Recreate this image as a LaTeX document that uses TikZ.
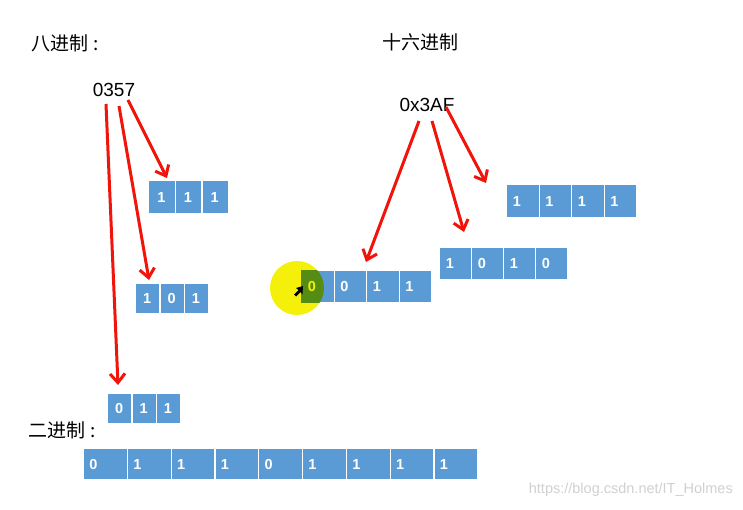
\documentclass[tikz,border=0pt]{standalone}
\usepackage{fontspec}
\setmainfont{Liberation Sans}
\newfontfamily\cjk{Noto Sans CJK SC}
\usetikzlibrary{arrows.meta,calc}
\definecolor{cellblue}{RGB}{91,155,213}
\definecolor{arrowred}{RGB}{240,20,10}
\definecolor{hlyellow}{RGB}{245,240,10}
\definecolor{hlgreen}{RGB}{84,140,20}
\tikzset{
  cell/.style={fill=cellblue, draw=white, line width=1.2pt, inner sep=0pt, anchor=north west},
  digit/.style={text=white, font=\bfseries\fontsize{14.5}{16}\selectfont, inner sep=0pt},
  title/.style={font=\cjk\fontsize{19}{22}\selectfont, inner sep=0pt},
  num/.style={font=\fontsize{19}{22}\selectfont, inner sep=0pt},
  redarrow/.style={draw=arrowred, line width=3pt, -{Straight Barb[length=9pt,width=15pt]}},
}
\newcommand\bitbox[7]{%
  \foreach \d [count=\i from 0] in {#7} {
    \node[cell, minimum width=#4pt, minimum height=#5pt] (#1-\i) at ({#2+\i*#4}, #3) {};
    \node[digit] at ($(#1-\i.west)+(#6,0)$) {\d};
  }}
\begin{document}
\begin{tikzpicture}[x=1pt,y=-1pt]
\useasboundingbox (0,0) rectangle (743,510);
\fill[white] (0,0) rectangle (743,510);

% titles
\node[title, anchor=west] (toct) at (31,43) {八进制\hspace{5pt}:};
\node[title, anchor=west] (thex) at (382,42) {十六进制};
\node[title, anchor=west] (tbin) at (28,430) {二进制\hspace{5pt}:};

% numbers
\node[num] (oct) at (114,90) {0357};
\node[num] (hex) at (427,105) {0x3AF};

% highlight circle
\fill[hlyellow] (297,288) circle (27);

% boxes
\bitbox{b111}{148}{180}{26.7}{33}{13.3}{1,1,1}
\bitbox{b101}{135}{283}{24.4}{30}{12.2}{1,0,1}
\bitbox{b011}{107}{393}{24.4}{30}{12.2}{0,1,1}
\bitbox{bbin}{83}{448}{43.8}{31}{10.5}{0,1,1,1,0,1,1,1,1}
\bitbox{h1111}{506}{184}{32.5}{33}{11}{1,1,1,1}
\bitbox{h1010}{439}{247}{32}{32}{11}{1,0,1,0}
\bitbox{h0011}{301}{270}{32.5}{32}{11}{0,0,1,1}

% highlighted first cell
\begin{scope}
  \clip (297,288) circle (27);
  \fill[hlgreen] (h0011-0.north west) rectangle (h0011-0.south east);
\end{scope}
\node[digit, text=hlyellow] at ($(h0011-0.west)+(11,0)$) {0};

% cursor
\fill[black] (303,286) -- (296,288) -- (298.5,290) -- (294,294.5) -- (296,296.5) -- (300.5,292) -- (302.5,294.5) -- cycle;

% arrow anchors
\coordinate (o1) at (128,100);
\coordinate (o2) at (119,106);
\coordinate (o3) at (106,104);
\coordinate (e1) at (167,178);
\coordinate (e2) at (149,280);
\coordinate (e3) at (118,385);
\coordinate (x1) at (419,121);
\coordinate (x2) at (432,121);
\coordinate (x3) at (446,107);
\coordinate (f1) at (366,262);
\coordinate (f2) at (464,232);
\coordinate (f3) at (486,183);

\draw[redarrow] (o1) -- (e1);
\draw[redarrow] (o2) -- (e2);
\draw[redarrow] (o3) -- (e3);
\draw[redarrow] (x1) -- (f1);
\draw[redarrow] (x2) -- (f2);
\draw[redarrow] (x3) -- (f3);

% watermark
\node[text=black!18, font=\fontsize{14.5}{16}\selectfont, anchor=east, inner sep=0pt] (wm) at (733,490) {https://blog.csdn.net/IT\_Holmes};
\end{tikzpicture}
\end{document}
